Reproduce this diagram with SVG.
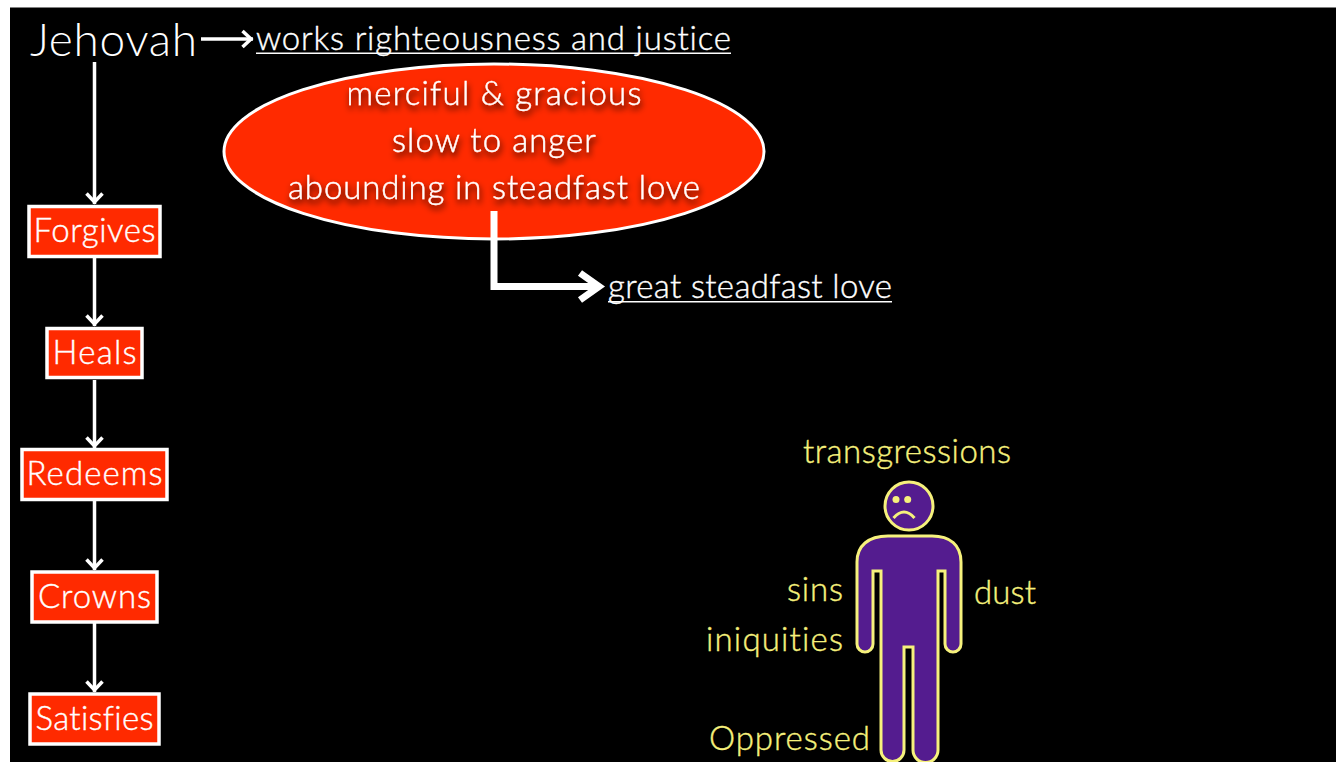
<svg xmlns="http://www.w3.org/2000/svg" width="1336" height="762" viewBox="0 0 1336 762">
<style>
text{font-family:"Lato","Noto Sans",sans-serif;font-weight:300;font-variant-ligatures:none;stroke-width:.4px}
.box{fill:#ff2a00;stroke:#fff;stroke-width:3.5}
.c{fill:none;stroke:#fff;stroke-width:3.500}
.t{font-size:33px;text-anchor:middle;fill:#fff;stroke:#fff}
.l{font-size:33px;fill:#fff;stroke:#fff}
.s{font-size:33px;fill:#f6f17c;stroke:#f6f17c}
.ul{fill:#fff}
.body{fill:#541c8f;stroke:#f6f17c;stroke-width:3}
</style>
<defs>
<filter id="sh" x="-10%" y="-30%" width="120%" height="170%"><feDropShadow dx="1" dy="4" stdDeviation="3" flood-color="#000" flood-opacity="0.9"/></filter>
<marker id="ah" markerUnits="userSpaceOnUse" markerWidth="24" markerHeight="24" refX="18" refY="12" orient="auto"><path d="M7.500 4L16 12L7.500 20" fill="none" stroke="#fff" stroke-width="3.500"/></marker>
</defs>
<rect width="1336" height="762" fill="#fff"/>
<rect x="10" y="7.500" width="1326" height="755" fill="#000"/>
<g id="jehovah"><text x="30" y="56" fill="#fff" style="font-size:46px" textLength="167">Jehovah</text></g>
<g id="works"><text class="l" x="256" y="50" textLength="475">works righteousness and justice</text><rect class="ul" x="256" y="52.500" width="475" height="1.500"/></g>
<g id="ellipse">
<ellipse cx="494" cy="151.500" rx="270" ry="87.500" fill="#ff2a00" stroke="#fff" stroke-width="3"/>
<g filter="url(#sh)">
<text class="t" x="494" y="105" textLength="295">merciful &amp; gracious</text>
<text class="t" x="494" y="152" textLength="204">slow to anger</text>
<text class="t" x="494" y="199" textLength="412">abounding in steadfast love</text>
</g>
</g>
<g id="great"><text class="l" x="608" y="298" textLength="284">great steadfast love</text><rect class="ul" x="608" y="301" width="284" height="1.500"/></g>
<g id="forgives"><rect class="box" x="29" y="206.500" width="131" height="50"/><text class="t" x="94.500" y="242" textLength="122">Forgives</text></g>
<g id="heals"><rect class="box" x="47" y="328.500" width="95" height="49"/><text class="t" x="94.500" y="364" textLength="84">Heals</text></g>
<g id="redeems"><rect class="box" x="22" y="449.500" width="145" height="50"/><text class="t" x="94.500" y="485" textLength="136">Redeems</text></g>
<g id="crowns"><rect class="box" x="32" y="572" width="125" height="50"/><text class="t" x="94.500" y="608" textLength="113">Crowns</text></g>
<g id="satisfies"><rect class="box" x="30" y="694" width="129" height="50"/><text class="t" x="94.500" y="730" textLength="118">Satisfies</text></g>
<g id="person">
<path class="body" d="M881 571V750A11.500 11.500 0 0 0 904 750V647H913V750A12.500 12.500 0 0 0 938 750V571H945V644A8 8 0 0 0 961 644V562C961 545 950 536 932 536H888C868 536 857 546 857 562V644A8 8 0 0 0 873 644V571Z"/>
<circle cx="909" cy="506" r="24" fill="#541c8f" stroke="#f6f17c" stroke-width="3"/>
<circle cx="896" cy="499.500" r="3.500" fill="#f6f17c"/><circle cx="907.700" cy="499.500" r="3.500" fill="#f6f17c"/>
<path d="M893.500 518Q904 506 914.500 518" fill="none" stroke="#f6f17c" stroke-width="3"/>
</g>
<g id="labels">
<text class="s" x="803" y="463" textLength="208">transgressions</text>
<text class="s" x="787" y="601" textLength="56">sins</text>
<text class="s" x="974" y="604" textLength="62">dust</text>
<text class="s" x="706" y="651" textLength="137">iniquities</text>
<text class="s" x="709" y="750" textLength="161">Oppressed</text>
</g>
<g id="connectors">
<path class="c" d="M201 39H253" marker-end="url(#ah)"/>
<path class="c" d="M94.500 62V204" marker-end="url(#ah)"/>
<path class="c" d="M94.500 258V326" marker-end="url(#ah)"/>
<path class="c" d="M94.500 380V448" marker-end="url(#ah)"/>
<path class="c" d="M94.500 501V570" marker-end="url(#ah)"/>
<path class="c" d="M94.500 623V692" marker-end="url(#ah)"/>
<path d="M494 211V286.500H599" fill="none" stroke="#fff" stroke-width="7"/>
<path d="M580 273L599 286.500L580 300" fill="none" stroke="#fff" stroke-width="7"/>
</g>
</svg>
